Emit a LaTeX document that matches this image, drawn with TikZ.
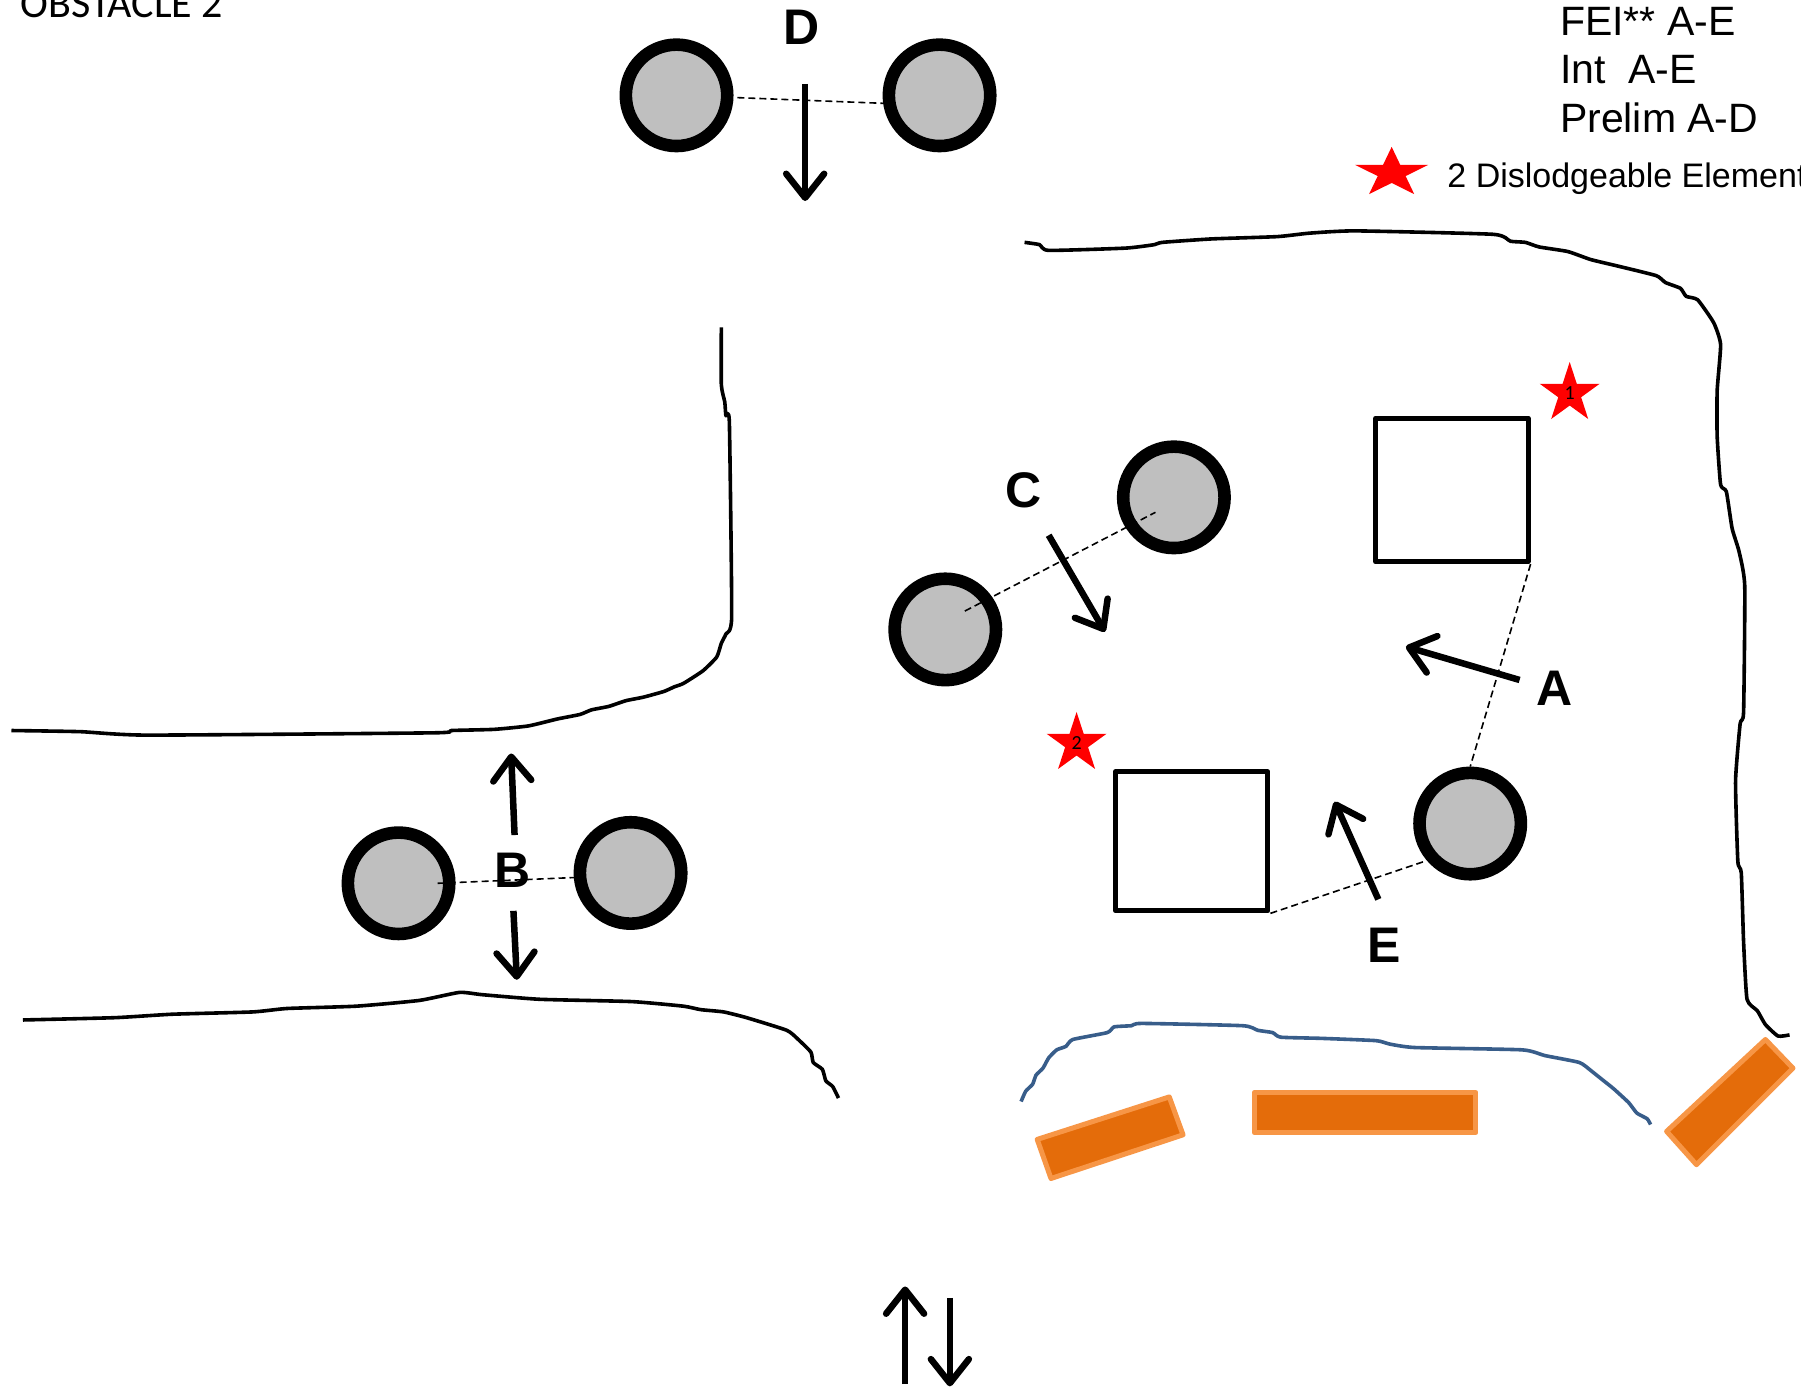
\documentclass[tikz,border=0pt]{standalone}
\usepackage{fontspec}
\setmainfont{Liberation Sans}
\newfontfamily\calfont{Carlito}
\usetikzlibrary{arrows.meta,shapes.geometric}
\definecolor{discgray}{HTML}{BFBFBF}
\definecolor{barfill}{HTML}{E46C0A}
\definecolor{baredge}{HTML}{F79646}
\definecolor{curveblue}{HTML}{385D8A}
\tikzset{
  disc/.style={circle,draw=black,fill=discgray,line width=12.6pt,minimum size=101.4pt,inner sep=0pt},
  plainbox/.style={rectangle,draw=black,line width=5pt,fill=white,line join=round,inner sep=0pt},
  tie/.style={densely dashed,dash pattern=on 7pt off 4pt,line width=1.6pt,black},
  motion/.style={line width=6.5pt,black,-{Straight Barb[length=24pt,width=38pt,line width=6.5pt,round]}},
  wall/.style={line width=3.6pt,black,line join=round},
  bluewall/.style={line width=3.6pt,curveblue,line join=round},
  bar/.style={fill=barfill,draw=baredge,line width=5pt,line join=round},
  redstar/.style={star,star points=5,star point ratio=2.618,fill=red,draw=none,inner sep=0pt,font=\calfont\fontsize{20}{20}\selectfont},
  letter/.style={font=\bfseries\fontsize{50}{50}\selectfont,inner sep=0pt,anchor=center},
  legend/.style={font=\fontsize{41}{47}\selectfont,anchor=base west,inner sep=0pt},
}
\begin{document}
\begin{tikzpicture}[x=1.1486pt,y=-1.1486pt]
\useasboundingbox[fill=white] (0,0) rectangle (1568,1208.4);

% texts
\node[anchor=base west,inner sep=0pt,font=\calfont\fontsize{42}{42}\selectfont] (title) at (18,15) {OBSTACLE 2};
\node[legend] (fei) at (1358,31) {FEI** A-E};
\node[legend] (intl) at (1358,73) {Int\ \ A-E};
\node[legend] (prelim) at (1358,115) {Prelim A-D};
\node[anchor=base west,inner sep=0pt,font=\fontsize{34}{34}\selectfont] (dislodge) at (1260,163) {2 Dislodgeable Element};
\node[redstar,minimum size=76.8pt,yscale=0.68,transform shape] (legstar) at (1211.6,150.6) {};

% walls
\draw[wall] plot[smooth,tension=0.3] coordinates {(892,211) (905,213) (913,218) (980,216) (1005,213) (1012,211) (1055,208) (1112,206) (1140,203) (1180,201) (1300,204) (1315,210) (1328,211) (1340,215) (1365,219) (1385,226) (1410,232) (1442,240) (1450,246) (1463,251) (1468,258) (1478,261) (1492,281) (1498,300) (1495,340) (1495,380) (1498,422) (1503,428) (1508,460) (1514,480) (1519,510) (1518,620) (1515,630) (1511,680) (1513,750) (1516,760) (1518,820) (1521,870) (1530,880) (1537,892) (1548,902) (1558,901)};
\draw[wall] plot[smooth,tension=0.3] coordinates {(628,285) (628,335) (631,350) (632,362) (635,368) (637,537) (632,552) (628,560) (624,572) (612,584) (595,595) (587,598) (578,602) (560,607) (545,610) (530,615) (515,618) (505,622) (485,626) (460,632) (430,635) (393,636) (378,638) (128,640) (70,637) (10,636)};
\draw[wall] plot[smooth,tension=0.3] coordinates {(20,888) (100,886) (150,883) (220,881) (250,878) (310,876) (365,871) (400,864) (420,866) (470,870) (550,872) (595,876) (610,879) (630,881) (650,886) (685,897) (695,905) (706,916) (708,925) (716,931) (719,941) (725,946) (730,956)};
\draw[bluewall] plot[smooth,tension=0.3] coordinates {(889,959) (893,950) (899,944) (902,936) (908,930) (913,921) (920,914) (928,911) (934,905) (964,899) (970,894) (985,893) (994,891) (1082,893) (1095,897) (1108,899) (1115,903) (1150,904) (1198,906) (1210,909) (1232,912) (1325,914) (1345,919) (1375,925) (1385,932) (1395,940) (1405,948) (1418,960) (1425,969) (1434,974) (1437,979)};

% orange bars
\draw[bar] (903,992) -- (1018,955) -- (1030,988) -- (915,1026) -- cycle;
\draw[bar] (1092,951) rectangle (1285,986);
\draw[bar] (1451,985) -- (1537,905) -- (1561,930) -- (1477,1014) -- cycle;

% discs and boxes
\node[disc] (d1) at (589,83) {};
\node[disc] (d2) at (818,83) {};
\node[disc] (c1) at (1022,433) {};
\node[disc] (c2) at (823,548) {};
\node[disc] (b1) at (347,769) {};
\node[disc] (b2) at (549,760) {};
\node[disc] (ae) at (1280,717) {};
\node[plainbox,minimum width=152.5pt,minimum height=143.5pt] (sqa) at (1264,426.5) {};
\node[plainbox,minimum width=152.5pt,minimum height=139pt] (sqe) at (1037.5,732.5) {};

% stars
\node[redstar,minimum size=63pt] (star1) at (1366.6,342.6) {1};
\node[redstar,minimum size=63pt] (star2) at (937.3,647.3) {2};

% ties
\coordinate (dL) at (642,85);
\coordinate (dR) at (770,90);
\coordinate (bL) at (381,769);
\coordinate (bR) at (500,764);
\coordinate (cL) at (840,532);
\coordinate (cR) at (1006,446);
\coordinate (eR) at (1240,750);
\draw[tie] (dL) -- (dR);
\draw[tie] (bL) -- (bR);
\draw[tie] (cL) -- (cR);
\draw[tie] (sqa.south east) -- (ae.north);
\draw[tie] (sqe.south east) -- (eR);

% motion arrows
\coordinate (mDa) at (701,73);   \coordinate (mDb) at (701,175);
\coordinate (mAa) at (1323,592); \coordinate (mAb) at (1224,563);
\coordinate (mCa) at (913,466);  \coordinate (mCb) at (962,550);
\coordinate (mEa) at (1200,783); \coordinate (mEb) at (1162,698);
\coordinate (mBa) at (448,727);  \coordinate (mBb) at (445,656);
\coordinate (mBc) at (447,793);  \coordinate (mBd) at (450,853);
\coordinate (mUa) at (788,1205); \coordinate (mUb) at (788,1120);
\coordinate (mVa) at (827,1130); \coordinate (mVb) at (827,1207);
\draw[motion] (mDa) -- (mDb);
\draw[motion] (mAa) -- (mAb);
\draw[motion] (mCa) -- (mCb);
\draw[motion] (mEa) -- (mEb);
\draw[motion] (mBa) -- (mBb);
\draw[motion] (mBc) -- (mBd);
\draw[motion] (mUa) -- (mUb);
\draw[motion] (mVa) -- (mVb);

% letters
\node[letter] (lD) at (698,24) {D};
\node[letter] (lA) at (1353,599) {A};
\node[letter] (lB) at (446,758) {B};
\node[letter] (lC) at (891,427) {C};
\node[letter] (lE) at (1205,823) {E};
\end{tikzpicture}
\end{document}
